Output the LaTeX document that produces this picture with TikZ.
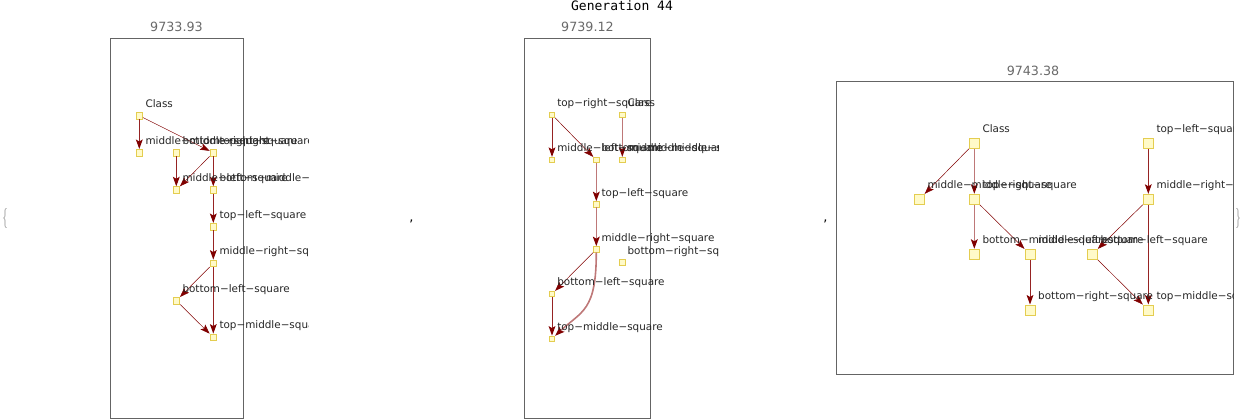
\documentclass[tikz,border=0pt]{standalone}
\usepackage{fontspec}
\newfontfamily\dv{DejaVu Sans}
\newfontfamily\dvmono{DejaVu Sans Mono}
\usetikzlibrary{arrows.meta,calc}
\definecolor{edark}{RGB}{128,0,0}
\definecolor{emid}{RGB}{150,35,35}
\definecolor{elight}{RGB}{190,120,120}
\definecolor{nfill}{RGB}{255,250,200}
\definecolor{ndraw}{RGB}{228,205,80}
\definecolor{framec}{RGB}{100,100,100}
\definecolor{scorec}{RGB}{105,105,105}
\begin{document}
\begin{tikzpicture}[x=1pt,y=-1pt,
  sqS/.style={draw=ndraw,fill=nfill,line width=0.8pt,inner sep=0,minimum size=6.6pt},
  sqM/.style={draw=ndraw,fill=nfill,line width=0.8pt,inner sep=0,minimum size=5.4pt},
  sqL/.style={draw=ndraw,fill=nfill,line width=0.8pt,inner sep=0,minimum size=10.2pt},
  tipd/.style={-{Stealth[length=9.5pt,width=6.8pt,inset=2pt,color=edark]}},
  ed/.style={draw=edark,line width=0.5pt,tipd},
  em/.style={draw=emid,line width=1pt,tipd},
  el/.style={draw=elight,line width=1.6pt,tipd},
  lbl/.style={font=\dv\fontsize{10.4}{12}\selectfont,text=black!85,inner sep=0,anchor=base west},
  score/.style={font=\dv\fontsize{12.7}{14}\selectfont,text=scorec,inner sep=0,anchor=base},
  framebox/.style={draw=framec,line width=0.8pt},
  punct/.style={inner sep=0,anchor=base,font=\dv\fontsize{13}{14}\selectfont},
  brace/.style={inner sep=0,font=\fontsize{20}{20}\selectfont,text=black!45}]
\useasboundingbox (0,0) rectangle (1242,420);

% title and punctuation
\node[font=\dvmono\fontsize{13}{15}\selectfont,inner sep=0,anchor=base] (title) at (622,10.7) {Generation 44};
\node[brace] (lbrace) at (5,218.5) {\scalebox{0.55}[1]{\{}};
\node[brace] (rbrace) at (1238,218.5) {\scalebox{0.55}[1]{\}}};
\node[punct] (comma1) at (411.5,221) {,};
\node[punct] (comma2) at (825.5,221) {,};

% frames and scores
\draw[framebox] (110,38) rectangle (243,418);
\draw[framebox] (524,38) rectangle (650,418);
\draw[framebox] (836,81) rectangle (1233,374);
\node[score] (s1) at (176.5,31.7) {9733.93};
\node[score] (s2) at (587.5,31.7) {9739.12};
\node[score] (s3) at (1033,75.7) {9743.38};

% ---------------- left panel ----------------
\node[sqS] (L0) at (139.3,115.7) {};
\node[sqS] (L1) at (139.3,152.7) {};
\node[sqS] (L2) at (176.3,152.7) {};
\node[sqS] (L3) at (213.3,152.7) {};
\node[sqS] (L4) at (176.3,190) {};
\node[sqS] (L5) at (213.3,190) {};
\node[sqS] (L6) at (213.3,226.7) {};
\node[sqS] (L7) at (213.3,263.3) {};
\node[sqS] (L8) at (176.3,300.7) {};
\node[sqS] (L9) at (213.3,337.3) {};
\draw[em] (L0) -- (L1);
\draw[ed] (L0) -- (L3);
\draw[em] (L2) -- (L4);
\draw[ed] (L3) -- (L4);
\draw[em] (L3) -- (L5);
\draw[em] (L5) -- (L6);
\draw[em] (L6) -- (L7);
\draw[ed] (L7) -- (L8);
\draw[em] (L7) -- (L9);
\draw[ed] (L8) -- (L9);
\begin{scope}
\clip (100,90) rectangle (308,345);
\node[lbl] (L0t) at ($(L0.north east)+(2.3,-5)$) {Class};
\node[lbl] (L1t) at ($(L1.north east)+(2.3,-5)$) {middle−middle−square};
\node[lbl] (L2t) at ($(L2.north east)+(2.3,-5)$) {bottom−right−square};
\node[lbl] (L3t) at ($(L3.north east)+(2.3,-5)$) {top−right−square};
\node[lbl] (L4t) at ($(L4.north east)+(2.3,-5)$) {middle−left−square};
\node[lbl] (L5t) at ($(L5.north east)+(2.3,-5)$) {bottom−middle−square};
\node[lbl] (L6t) at ($(L6.north east)+(2.3,-5)$) {top−left−square};
\node[lbl] (L7t) at ($(L7.north east)+(2.3,-5)$) {middle−right−square};
\node[lbl] (L8t) at ($(L8.north east)+(2.3,-5)$) {bottom−left−square};
\node[lbl] (L9t) at ($(L9.north east)+(2.3,-5)$) {top−middle−square};
\end{scope}

% ---------------- middle panel ----------------
\node[sqM] (M0) at (552,114.7) {};
\node[sqM] (M1) at (622.3,114.7) {};
\node[sqM] (M2) at (552,160) {};
\node[sqM] (M3) at (596.3,160) {};
\node[sqM] (M4) at (622.3,160) {};
\node[sqM] (M5) at (596.3,204.3) {};
\node[sqM] (M6) at (596.3,249.3) {};
\node[sqM] (M7) at (622.3,262.3) {};
\node[sqM] (M8) at (552,294) {};
\node[sqM] (M9) at (552,338.7) {};
\draw[em] (M0) -- (M2);
\draw[ed] (M0) -- (M3);
\draw[el] (M1) -- (M4);
\draw[el] (M3) -- (M5);
\draw[el] (M5) -- (M6);
\draw[ed] (M6) -- (M8);
\draw[el] (M6) .. controls +(0,62) and +(30,-28) .. (M9);
\draw[em] (M8) -- (M9);
\begin{scope}
\clip (520,90) rectangle (718,345);
\node[lbl] (M0t) at ($(M0.north east)+(2,-5)$) {top−right−square};
\node[lbl] (M1t) at ($(M1.north east)+(2,-5)$) {Class};
\node[lbl] (M2t) at ($(M2.north east)+(2,-5)$) {middle−left−square};
\node[lbl] (M3t) at ($(M3.north east)+(2,-5)$) {bottom−middle−square};
\node[lbl] (M4t) at ($(M4.north east)+(2,-5)$) {middle−middle−square};
\node[lbl] (M5t) at ($(M5.north east)+(2,-5)$) {top−left−square};
\node[lbl] (M6t) at ($(M6.north east)+(2,-5)$) {middle−right−square};
\node[lbl] (M7t) at ($(M7.north east)+(2,-5)$) {bottom−right−square};
\node[lbl] (M8t) at ($(M8.north east)+(2,-5)$) {bottom−left−square};
\node[lbl] (M9t) at ($(M9.north east)+(2,-5)$) {top−middle−square};
\end{scope}

% ---------------- right panel ----------------
\node[sqL] (R0) at (974.3,143.3) {};
\node[sqL] (R1) at (919.3,199.3) {};
\node[sqL] (R2) at (974.3,199.3) {};
\node[sqL] (R3) at (1148.3,143.3) {};
\node[sqL] (R4) at (1148.3,199.3) {};
\node[sqL] (R5) at (974.3,254.3) {};
\node[sqL] (R6) at (1030,254.3) {};
\node[sqL] (R7) at (1092.3,254.3) {};
\node[sqL] (R8) at (1030,310) {};
\node[sqL] (R9) at (1148.3,310) {};
\draw[ed] (R0) -- (R1);
\draw[el] (R0) -- (R2);
\draw[el] (R2) -- (R5);
\draw[ed] (R2) -- (R6);
\draw[em] (R3) -- (R4);
\draw[ed] (R4) -- (R7);
\draw[em] (R4) -- (R9);
\draw[em] (R6) -- (R8);
\draw[ed] (R7) -- (R9);
\begin{scope}
\clip (836,81) rectangle (1233,374);
\node[lbl] (R0t) at ($(R0.north east)+(2.5,-5)$) {Class};
\node[lbl] (R1t) at ($(R1.north east)+(2.5,-5)$) {middle−middle−square};
\node[lbl] (R2t) at ($(R2.north east)+(2.5,-5)$) {top−right−square};
\node[lbl] (R3t) at ($(R3.north east)+(2.5,-5)$) {top−left−square};
\node[lbl] (R4t) at ($(R4.north east)+(2.5,-5)$) {middle−right−square};
\node[lbl] (R5t) at ($(R5.north east)+(2.5,-5)$) {bottom−middle−square};
\node[lbl] (R6t) at ($(R6.north east)+(2.5,-5)$) {middle−left−square};
\node[lbl] (R7t) at ($(R7.north east)+(2.5,-5)$) {bottom−left−square};
\node[lbl] (R8t) at ($(R8.north east)+(2.5,-5)$) {bottom−right−square};
\node[lbl] (R9t) at ($(R9.north east)+(2.5,-5)$) {top−middle−square};
\end{scope}
\end{tikzpicture}
\end{document}
